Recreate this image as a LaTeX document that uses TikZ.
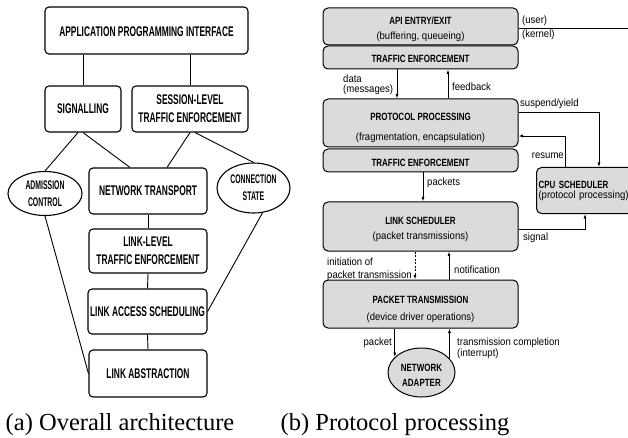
\documentclass[tikz,border=0pt]{standalone}
\usepackage{fontspec}
\setmainfont{Liberation Serif}
\newfontfamily\lsfam{Liberation Sans}[FakeStretch=0.6]
\newfontfamily\esfam{Liberation Sans}[FakeStretch=0.55]
\newfontfamily\rbfam{Liberation Sans}[FakeStretch=0.76]
\newfontfamily\rrfam{Liberation Sans}[FakeStretch=0.91]
\newcommand\txLB{\lsfam\bfseries\fontsize{14}{18}\selectfont}
\newcommand\txEB{\esfam\bfseries\fontsize{12.5}{17}\selectfont}
\newcommand\txRB{\rbfam\bfseries\fontsize{10.5}{13}\selectfont}
\newcommand\txRR{\rrfam\fontsize{10.5}{13}\selectfont}
\newcommand\topstrut[1]{\rule{0pt}{#1}}
\usetikzlibrary{shapes.geometric,arrows.meta}
\tikzset{
  lbox/.style={draw, line width=1.1pt, rounded corners=4pt, align=center, inner sep=1pt, font=\txLB},
  lell/.style={draw, ellipse, line width=1.1pt, align=center, inner sep=0pt, font=\txEB},
  rbox/.style={draw, line width=1pt, rounded corners=5pt, fill=black!14, align=center, inner sep=2pt, font=\txRR},
  rell/.style={draw, ellipse, line width=1pt, fill=black!14, align=center, inner sep=0pt, font=\txRB},
  conn/.style={line width=0.9pt},
  arr/.style={line width=0.8pt, -{Latex[length=4.5pt,width=3pt]}},
  lab/.style={inner sep=0pt, font=\txRR},
  captxt/.style={anchor=base, inner sep=0pt, font=\fontsize{24.5}{28}\selectfont}
}
\begin{document}
\begin{tikzpicture}[x=1pt,y=-1pt]
\useasboundingbox (0,0) rectangle (628,438);
\clip (0,0) rectangle (628,438);
% ---------- (a) ----------
\node[lbox, minimum width=203pt, minimum height=47pt] (api) at (146.5,30.5) {\topstrut{13pt}APPLICATION PROGRAMMING INTERFACE};
\node[lbox, minimum width=76pt, minimum height=46pt] (sig) at (83,109) {SIGNALLING};
\node[lbox, minimum width=116pt, minimum height=46pt] (sess) at (190,109) {SESSION-LEVEL\\TRAFFIC ENFORCEMENT};
\node[lell, minimum width=74pt, minimum height=44pt] (adm) at (45,193.5) {ADMISSION\\CONTROL};
\node[lbox, minimum width=118pt, minimum height=46pt] (net) at (148,191) {NETWORK TRANSPORT};
\node[lell, minimum width=73pt, minimum height=50pt] (cst) at (253.5,188) {CONNECTION\\STATE};
\node[lbox, minimum width=118pt, minimum height=44pt] (llte) at (148,251) {LINK-LEVEL\\TRAFFIC ENFORCEMENT};
\node[lbox, minimum width=119pt, minimum height=45pt] (las) at (147.5,311.5) {LINK ACCESS SCHEDULING};
\node[lbox, minimum width=118pt, minimum height=47pt] (labs) at (148,373.5) {LINK ABSTRACTION};
\draw[conn] (sig.north) -- (sig.north |- api.south);
\draw[conn] (sess.north) -- (sess.north |- api.south);
\draw[conn] ([xshift=-5pt]sig.south) -- (adm.north);
\draw[conn] (sig.south) -- ([xshift=-18pt]net.north);
\draw[conn] (sess.south) -- ([xshift=19pt]net.north);
\draw[conn] ([xshift=5pt]sess.south) -- (cst.north);
\draw[conn] (net.south) -- (llte.north);
\draw[conn] (llte.south) -- (las.north);
\draw[conn] (las.south) -- (labs.north);
\draw[conn] (adm.south) -- (labs.west);
\draw[conn] (cst.-70) -- (las.east);
\node[captxt] (capa) at (120,430) {(a) Overall architecture};
% ---------- (b) ----------
\node[rbox, minimum width=195pt, minimum height=37pt] (apie) at (420.5,26.5) {{\txRB\topstrut{13.5pt}API ENTRY/EXIT}\\[2pt](buffering, queueing)};
\node[rbox, minimum width=195pt, minimum height=23pt] (te1) at (420.5,57.5) {\txRB\topstrut{9.5pt}TRAFFIC ENFORCEMENT};
\node[rbox, minimum width=195pt, minimum height=48pt] (pp) at (420.5,123) {{\txRB\topstrut{17.5pt}PROTOCOL PROCESSING}\\[7pt](fragmentation, encapsulation)};
\node[rbox, minimum width=195pt, minimum height=23pt] (te2) at (420.5,160.5) {\txRB\topstrut{12.5pt}TRAFFIC ENFORCEMENT};
\node[rbox, minimum height=46pt, text width=100pt, align=left, anchor=north west] (cpu) at (536,167) {{\txRB CPU SCHEDULER}\\[-3pt](protocol processing)};
\node[rbox, minimum width=195pt, minimum height=49pt] (ls) at (420.5,226.5) {{\txRB\topstrut{13.5pt}LINK SCHEDULER}\\[2pt](packet transmissions)};
\node[rbox, minimum width=195pt, minimum height=48pt] (pt) at (420.5,304) {{\txRB\topstrut{17.5pt}PACKET TRANSMISSION}\\[4pt](device driver operations)};
\node[rell, minimum width=67pt, minimum height=49pt] (na) at (421.5,372.5) {\topstrut{12pt}NETWORK\\[2pt]ADAPTER};
\coordinate (ukR) at (640,28);
\coordinate (syC) at (599,112);
\coordinate (rsC) at (565,136);
\coordinate (sgC) at (585,229);
\draw[conn] (apie.east |- ukR) -- (ukR);
\draw[arr] ([xshift=-23.5pt]te1.south) -- ([xshift=-23.5pt]pp.north);
\draw[arr] ([xshift=27.5pt]pp.north) -- ([xshift=27.5pt]te1.south);
\draw[arr] ([xshift=2.5pt]te2.south) -- ([xshift=2.5pt]ls.north);
\draw[arr, dash pattern=on 2pt off 1.5pt] ([xshift=-5.5pt]ls.south) -- ([xshift=-5.5pt]pt.north);
\draw[arr] ([xshift=28.5pt]pt.north) -- ([xshift=28.5pt]ls.south);
\draw[arr] (na.150 |- pt.south) -- (na.150);
\draw[arr] (na.27) -- (na.27 |- pt.south);
\draw[arr] (pp.east |- syC) -- (syC) -- (syC |- cpu.north);
\draw[arr] (rsC |- cpu.north) -- (rsC) -- (rsC -| pp.east);
\draw[arr] (ls.east |- sgC) -- (sgC) -- (sgC |- cpu.south);
\node[lab, anchor=base west] (luser) at (522,24) {(user)};
\node[lab, anchor=base west] (lkern) at (522,38) {(kernel)};
\node[lab, anchor=base west, align=left] (ldata) at (343,93) {data\\[-3pt](messages)};
\node[lab, anchor=base west] (lfb) at (452,90.5) {feedback};
\node[lab, anchor=base west] (lsy) at (520,106.5) {suspend/yield};
\node[lab, anchor=base east] (lres) at (564,158.5) {resume};
\node[lab, anchor=base west] (lpk) at (427,185.5) {packets};
\node[lab, anchor=base west] (lsg) at (523,240.5) {signal};
\node[lab, anchor=base west, align=left] (linit) at (327,278.5) {initiation of\\packet transmission};
\node[lab, anchor=base west] (lnot) at (454,273.5) {notification};
\node[lab, anchor=base east] (lpkt) at (392,345.5) {packet};
\node[lab, anchor=base west, align=left] (ltc) at (457,356.5) {transmission completion\\[-2pt](interrupt)};
\node[captxt] (capb) at (395,430) {(b) Protocol processing};
\end{tikzpicture}
\end{document}
